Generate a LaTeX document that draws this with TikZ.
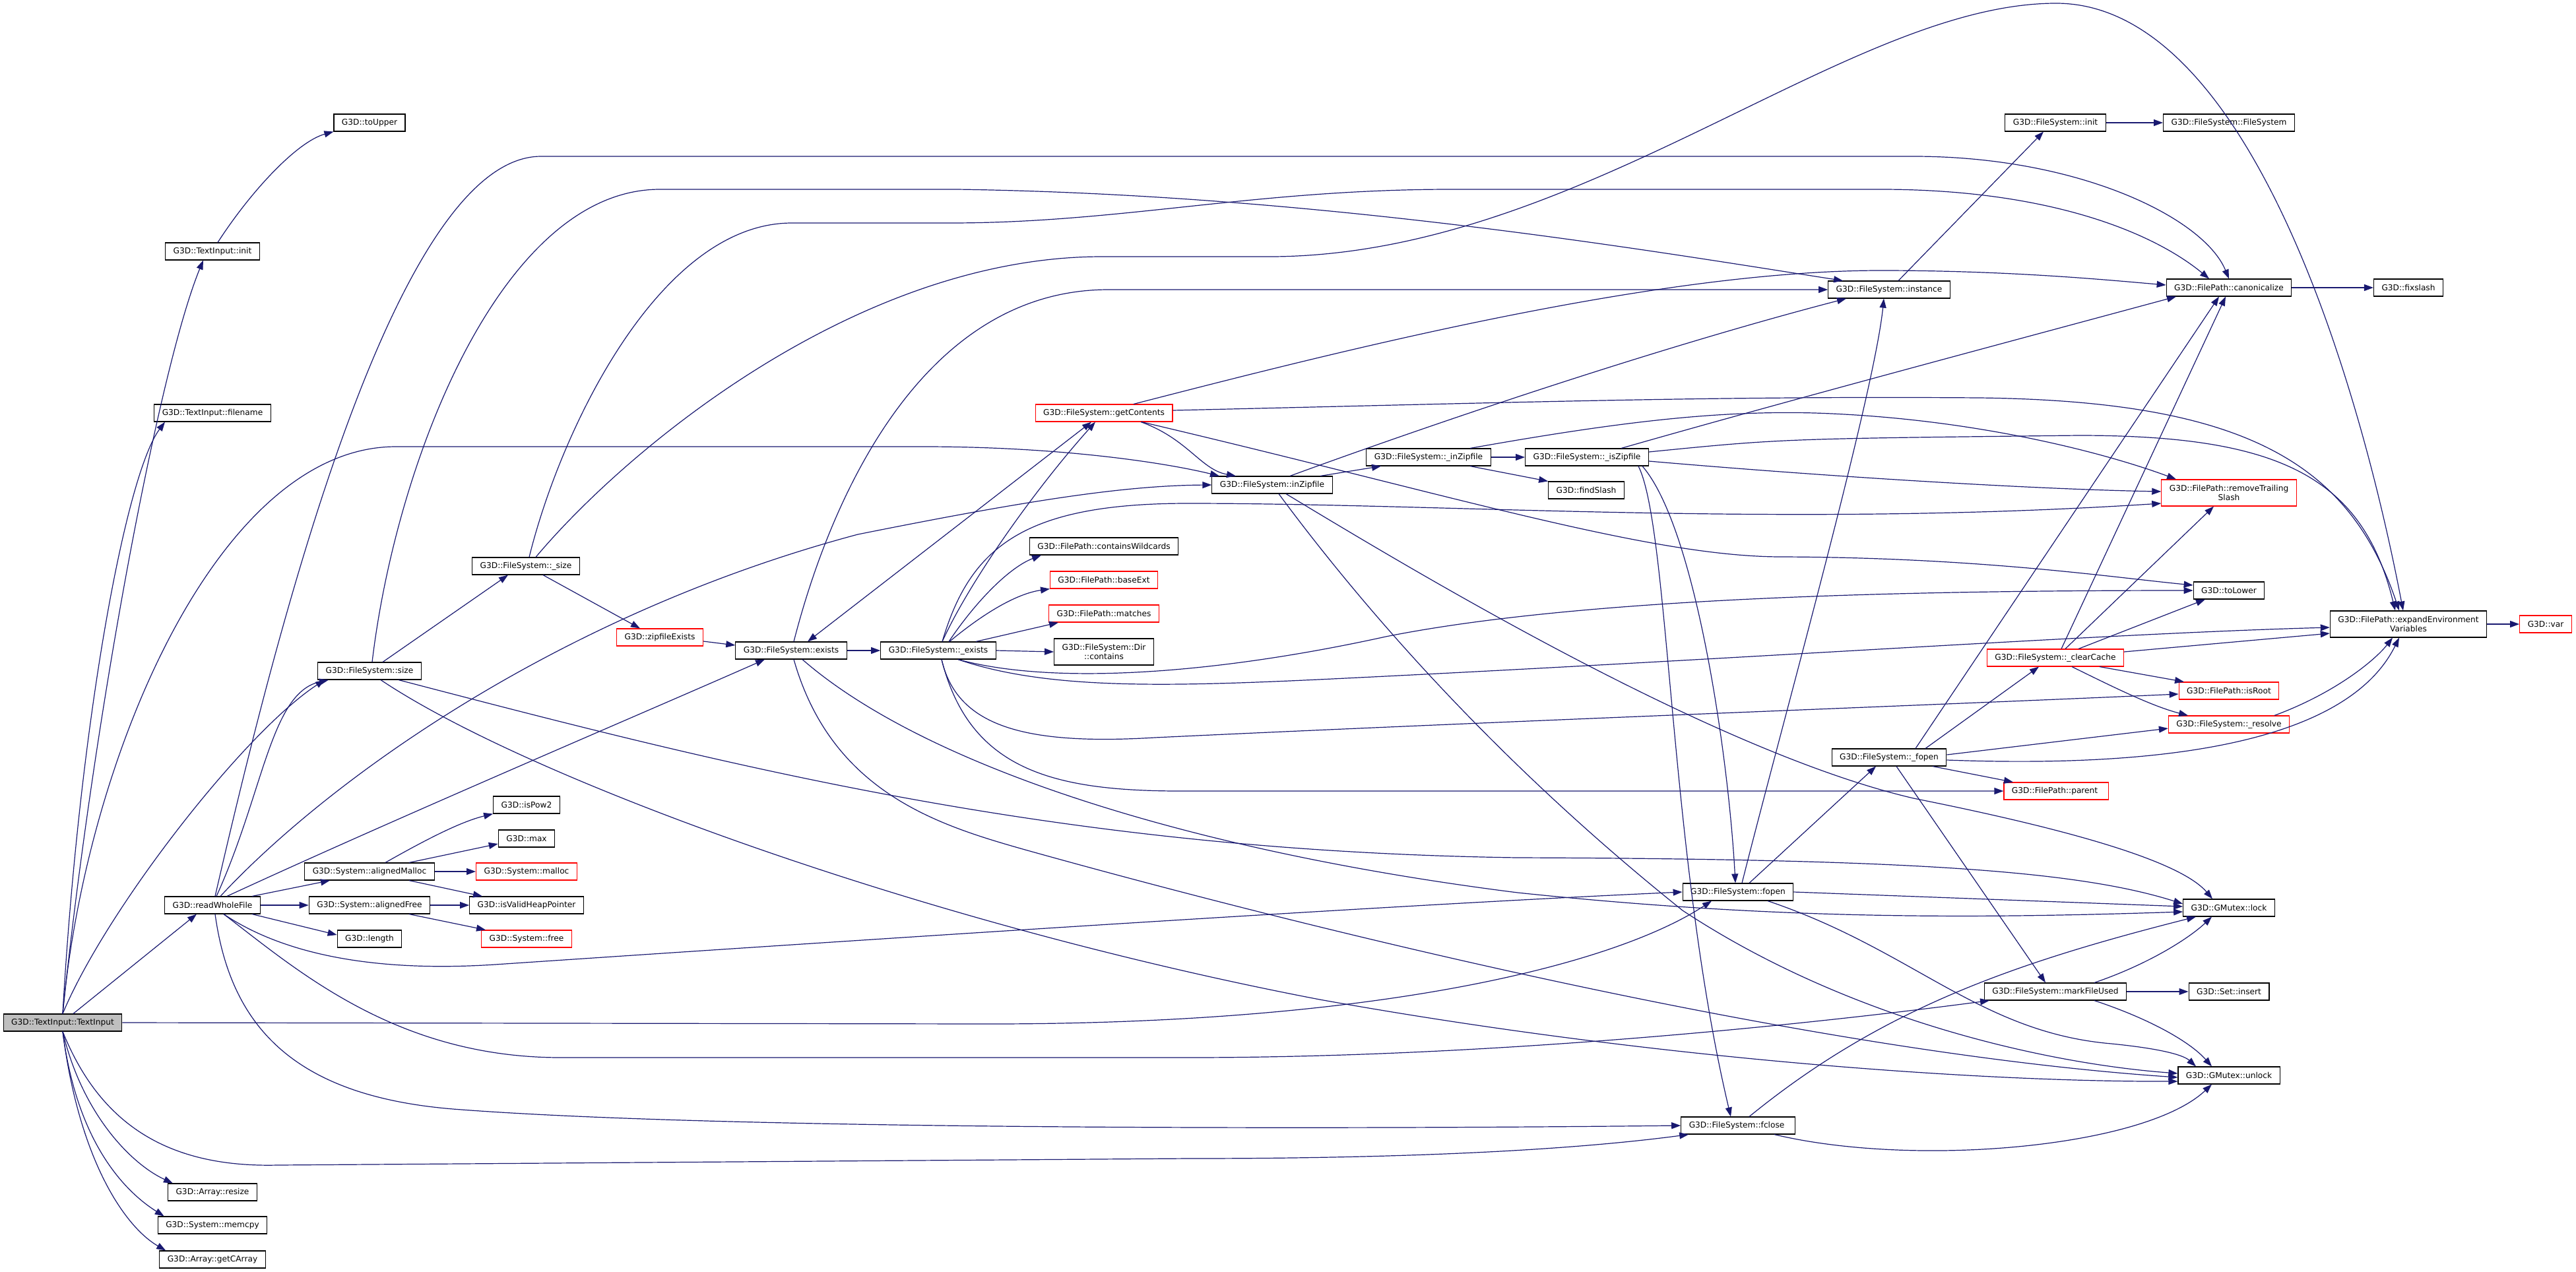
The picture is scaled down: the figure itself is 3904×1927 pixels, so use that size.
\documentclass[tikz,border=0pt]{standalone}
\usepackage{fontspec}
\setmainfont{DejaVu Sans}
\usetikzlibrary{arrows.meta}
\definecolor{edgeblue}{HTML}{191970}
\definecolor{rootgrey}{HTML}{BFBFBF}
\begin{document}
\begin{tikzpicture}[x=1pt, y=-1pt,
   fn/.style={draw=black, line width=1.1pt, rectangle, minimum height=26pt,
      inner xsep=12pt, inner ysep=2pt, align=center,
      font=\fontsize{12.2}{14.5}\selectfont},
   fnred/.style={fn, draw=red},
   fntwo/.style={minimum height=40pt},
   call/.style={draw=edgeblue, line width=1.2pt, ->},
   >={Triangle[length=14pt,width=10pt]}]
   \useasboundingbox (0,0) rectangle (3904,1927);
   % nodes
   \node[fn, fill=rootgrey] (ti) at (95,1550) {G3D::TextInput::TextInput};
   \foreach \n/\x/\y/\l in
     {tinit/322/381/{G3D::TextInput::init},
      toupper/560/186/{G3D::toUpper},
      tfname/322/626/{G3D::TextInput::filename},
      fsize/560/1017/{G3D::FileSystem::size},
      rwf/322/1372/{G3D::readWholeFile},
      resize/322/1807/{G3D::Array::resize},
      memcpy/322/1857/{G3D::System::memcpy},
      carray/322/1909/{G3D::Array::getCArray},
      usize/797/858/{G3D::FileSystem::\_size},
      exists/1199/986/{G3D::FileSystem::exists},
      uexists/1422/986/{G3D::FileSystem::\_exists},
      wild/1673/828/{G3D::FilePath::containsWildcards},
      inzip/1928/735/{G3D::FileSystem::inZipfile},
      uinzip/2165/693/{G3D::FileSystem::\_inZipfile},
      uiszip/2405/693/{G3D::FileSystem::\_isZipfile},
      slash/2404/743/{G3D::findSlash},
      inst/2863/439/{G3D::FileSystem::instance},
      fsinit/3115/186/{G3D::FileSystem::init},
      fsctor/3378/186/{G3D::FileSystem::FileSystem},
      canon/3378/436/{G3D::FilePath::canonicalize},
      fixsl/3650/436/{G3D::fixslash},
      amalloc/560/1321/{G3D::System::alignedMalloc},
      afree/560/1372/{G3D::System::alignedFree},
      length/560/1423/{G3D::length},
      pow2/798/1220/{G3D::isPow2},
      max/798/1271/{G3D::max},
      heap/798/1372/{G3D::isValidHeapPointer},
      tolower/3378/895/{G3D::toLower},
      ufopen/2863/1148/{G3D::FileSystem::\_fopen},
      fopen/2634/1352/{G3D::FileSystem::fopen},
      lock/3378/1376/{G3D::GMutex::lock},
      used/3115/1503/{G3D::FileSystem::markFileUsed},
      insert/3378/1503/{G3D::Set::insert},
      unlock/3378/1630/{G3D::GMutex::unlock},
      fclose/2634/1706/{G3D::FileSystem::fclose}
     }
     \node[fn] (\n) at (\x,\y) {\l};
   \foreach \n/\x/\y/\l in
     {zipex/1000/966/{G3D::zipfileExists},
      getc/1673/626/{G3D::FileSystem::getContents},
      baseext/1673/879/{G3D::FilePath::baseExt},
      matches/1673/930/{G3D::FilePath::matches},
      malloc/798/1321/{G3D::System::malloc},
      free/798/1423/{G3D::System::free},
      var/3858/946/{G3D::var},
      clear/3115/997/{G3D::FileSystem::\_clearCache},
      isroot/3378/1047/{G3D::FilePath::isRoot},
      resolve/3378/1098/{G3D::FileSystem::\_resolve},
      parent/3116/1199/{G3D::FilePath::parent}
     }
     \node[fnred] (\n) at (\x,\y) {\l};
   \node[fn, fntwo] (dirc) at (1673,988) {G3D::FileSystem::Dir\\::contains};
   \node[fn, fntwo] (expenv) at (3650,946) {G3D::FilePath::expandEnvironment\\Variables};
   \node[fnred, fntwo] (rts) at (3378,747) {G3D::FilePath::removeTrailing\\Slash};

   % TextInput::TextInput
   \draw[call] (ti.north) .. controls (140,1100) and (240,560) .. ([xshift=-14pt]tinit.south);
   \draw[call] (ti.north) .. controls (120,1100) and (190,720) .. ([xshift=-72pt]tfname.south);
   \draw[call] (ti.north) .. controls (160,1380) and (370,1110) .. ([xshift=-68pt]fsize.south);
   \draw[call] ([xshift=16pt]ti.north) -- ([xshift=-24pt]rwf.south);
   \draw[call] (ti.north) .. controls (130,1150) and (330,677) .. (600,677) -- (1400,677)
      .. controls (1600,677) and (1760,700) .. ([xshift=-80pt]inzip.north);
   \draw[call] (ti.east) -- (1500,1552) .. controls (2100,1552) and (2450,1460) .. ([xshift=-40pt]fopen.south);
   \draw[call] (ti.south) .. controls (150,1700) and (250,1770) .. (420,1766) -- (1800,1756)
      .. controls (2200,1756) and (2420,1738) .. ([xshift=12pt]fclose.south west);
   \draw[call] (ti.south) .. controls (125,1690) and (200,1765) .. ([xshift=8pt]resize.north west);
   \draw[call] (ti.south) .. controls (115,1720) and (180,1800) .. ([xshift=10pt]memcpy.north west);
   \draw[call] (ti.south) .. controls (120,1760) and (190,1860) .. ([xshift=10pt]carray.north west);
   \draw[call] ([xshift=8pt]tinit.north) .. controls (380,290) and (450,215) .. (toupper.south west);

   % readWholeFile
   \draw[call] ([xshift=6pt]rwf.north) .. controls (400,1200) and (410,1050) .. ([xshift=-62pt]fsize.south);
   \draw[call] ([xshift=4pt]rwf.north) .. controls (420,950) and (600,237) .. (820,237) -- (2900,237)
      .. controls (3150,237) and (3340,330) .. (canon.north);
   \draw[call] ([xshift=12pt]rwf.north) .. controls (500,1180) and (850,930) .. (1300,810)
      .. controls (1550,760) and (1700,736) .. (inzip.west);
   \draw[call] ([xshift=22pt]rwf.north) .. controls (600,1240) and (1000,1070) .. ([xshift=-40pt]exists.south);
   \draw[call] ([xshift=60pt]rwf.north) -- ([xshift=-60pt]amalloc.south);
   \draw[call] (rwf.east) -- (afree.west);
   \draw[call] ([xshift=60pt]rwf.south) -- ([yshift=6pt]length.west);
   \draw[call] ([xshift=17pt]rwf.south) .. controls (420,1440) and (550,1475) .. (750,1462)
      .. controls (1300,1425) and (2100,1372) .. (fopen.west);
   \draw[call] ([xshift=17pt]rwf.south) .. controls (450,1470) and (600,1603) .. (850,1603) -- (1800,1603)
      .. controls (2300,1603) and (2800,1545) .. ([xshift=-100pt]used.south);
   \draw[call] ([xshift=4pt]rwf.south) .. controls (350,1560) and (450,1665) .. (700,1682)
      .. controls (1100,1712) and (2000,1712) .. (fclose.west);

   % FileSystem::size and _size
   \draw[call] ([xshift=20pt]fsize.north) -- ([xshift=-27pt]usize.south);
   \draw[call] ([xshift=4pt]fsize.north) .. controls (600,700) and (760,287) .. (1000,287) -- (1450,287)
      .. controls (2000,295) and (2500,380) .. ([xshift=-70pt]inst.north);
   \draw[call] ([xshift=44pt]fsize.south) .. controls (1100,1160) and (1600,1290) .. (2300,1300)
      .. controls (2900,1302) and (3150,1320) .. ([yshift=6pt]lock.west);
   \draw[call] ([xshift=17pt]fsize.south) .. controls (800,1180) and (1400,1400) .. (2000,1515)
      .. controls (2500,1605) and (3000,1640) .. ([yshift=-9pt]unlock.west);
   \draw[call] ([xshift=26pt]usize.south) -- ([xshift=-30pt]zipex.north);
   \draw[call] ([xshift=5pt]usize.north) .. controls (850,650) and (1000,338) .. (1200,338) -- (1440,338)
      .. controls (1700,338) and (1900,287) .. (2200,287) -- (2850,287)
      .. controls (3100,287) and (3260,350) .. ([xshift=-30pt]canon.north);
   \draw[call] ([xshift=15pt]usize.north) .. controls (950,680) and (1300,389) .. (1670,389) -- (1930,389)
      .. controls (2400,385) and (2800,5) .. (3116,5)
      .. controls (3400,5) and (3570,550) .. ([xshift=-8pt]expenv.north);
   \draw[call] ([yshift=-6pt]zipex.east) -- ([yshift=8pt]exists.west);

   % alignedMalloc, alignedFree
   \draw[call] ([xshift=24pt]amalloc.north) .. controls (650,1270) and (700,1245) .. (pow2.south west);
   \draw[call] ([xshift=60pt]amalloc.north) -- ([yshift=-8pt]max.west);
   \draw[call] (amalloc.east) -- (malloc.west);
   \draw[call] ([xshift=60pt]amalloc.south) -- ([xshift=-67pt]heap.north);
   \draw[call] (afree.east) -- (heap.west);
   \draw[call] ([xshift=60pt]afree.south) -- ([xshift=-62pt]free.north);

   % exists
   \draw[call] (exists.east) -- (uexists.west);
   \draw[call] ([xshift=4pt]exists.north) .. controls (1260,750) and (1400,439) .. (1680,439) -- (inst.west);
   \draw[call] ([xshift=17pt]exists.south) .. controls (1400,1160) and (1800,1290) .. (2300,1353)
      .. controls (2700,1395) and (3000,1392) .. ([yshift=-6pt]lock.west);
   \draw[call] ([xshift=4pt]exists.south) .. controls (1260,1200) and (1420,1250) .. (1550,1287)
      .. controls (1900,1385) and (2700,1592) .. ([yshift=-3pt]unlock.west);
   \draw[call, <->] ([xshift=25pt]exists.north) -- ([xshift=-19pt]getc.south);

   % getContents
   \draw[call] ([xshift=56pt]getc.south) .. controls (1800,665) and (1820,712) .. ([xshift=-55pt]inzip.north);
   \draw[call] ([xshift=45pt]getc.north) .. controls (2000,540) and (2500,410) .. (2850,410)
      .. controls (3050,410) and (3200,425) .. ([yshift=4pt]canon.west);
   \draw[call] ([yshift=4pt]getc.east) .. controls (2300,610) and (2600,600) .. (3000,603)
      .. controls (3400,608) and (3560,700) .. ([xshift=-14pt]expenv.north);
   \draw[call] ([xshift=57pt]getc.south) .. controls (2200,750) and (2500,844) .. (2700,844)
      .. controls (3000,845) and (3200,875) .. ([yshift=8pt]tolower.west);

   % _exists
   \draw[call] ([xshift=6pt]uexists.north) .. controls (1470,880) and (1570,740) .. ([xshift=-13pt]getc.south);
   \draw[call] ([xshift=16pt]uexists.north) .. controls (1480,910) and (1530,860) .. ([xshift=-95pt]wild.south);
   \draw[call] ([xshift=17pt]uexists.north) .. controls (1490,930) and (1540,900) .. ([xshift=-82pt]baseext.south);
   \draw[call] ([xshift=57pt]uexists.north) -- ([xshift=-69pt]matches.south);
   \draw[call] (uexists.east) -- (dirc.west);
   \draw[call] ([xshift=6pt]uexists.north) .. controls (1470,830) and (1550,763) .. (1800,763)
      .. controls (2200,763) and (2700,800) .. ([yshift=-16pt]rts.west);
   \draw[call] ([xshift=30pt]uexists.south) .. controls (1600,1040) and (1850,1020) .. (2100,965)
      .. controls (2400,905) and (2900,895) .. (tolower.west);
   \draw[call] ([xshift=30pt]uexists.south) .. controls (1600,1050) and (1800,1040) .. (2100,1025)
      .. controls (2700,995) and (3200,960) .. ([yshift=-5pt]expenv.west);
   \draw[call] ([xshift=5pt]uexists.south) .. controls (1450,1100) and (1550,1130) .. (1750,1118)
      .. controls (2300,1092) and (2900,1070) .. ([yshift=-5pt]isroot.west);
   \draw[call] ([xshift=5pt]uexists.south) .. controls (1470,1170) and (1600,1200) .. (1800,1199) -- (parent.west);

   % inZipfile, _inZipfile, _isZipfile
   \draw[call] ([xshift=73pt]inzip.north) -- ([xshift=-72pt]uinzip.south);
   \draw[call] ([xshift=27pt]inzip.north) .. controls (2150,650) and (2500,530) .. ([xshift=-65pt]inst.south);
   \draw[call] ([xshift=21pt]inzip.south) .. controls (2150,870) and (2600,1140) .. (2900,1210)
      .. controls (3100,1250) and (3300,1300) .. ([xshift=-25pt]lock.north);
   \draw[call] ([xshift=10pt]inzip.south) .. controls (2050,900) and (2250,1140) .. (2550,1380)
      .. controls (2800,1545) and (3100,1612) .. ([yshift=3pt]unlock.west);
   \draw[call] (uinzip.east) -- (uiszip.west);
   \draw[call] ([xshift=63pt]uinzip.south) -- (slash.north west);
   \draw[call] ([xshift=63pt]uinzip.north) .. controls (2450,640) and (2600,622) .. (2750,626)
      .. controls (3000,634) and (3200,690) .. ([xshift=-80pt]rts.north);
   \draw[call] ([xshift=52pt]uiszip.north) .. controls (2700,610) and (3000,530) .. ([xshift=-80pt]canon.south);
   \draw[call] ([yshift=8pt]uiszip.east) .. controls (2700,665) .. (3150,660)
      .. controls (3450,660) and (3580,720) .. ([xshift=-20pt]expenv.north);
   \draw[call] ([yshift=-6pt]uiszip.east) .. controls (2800,725) and (3100,742) .. ([yshift=2pt]rts.west);
   \draw[call] ([xshift=84pt]uiszip.south) .. controls (2570,800) and (2620,1150) .. ([xshift=-4pt]fopen.north);
   \draw[call] ([xshift=78pt]uiszip.south) .. controls (2530,800) and (2530,1300) .. ([xshift=-11pt]fclose.north);

   % instance, init, canonicalize
   \draw[call] ([xshift=14pt]inst.north) -- ([xshift=-18pt]fsinit.south);
   \draw[call] (fsinit.east) -- (fsctor.west);
   \draw[call] (canon.east) -- (fixsl.west);

   % fopen, _fopen
   \draw[call] ([xshift=6pt]fopen.north) .. controls (2700,1100) and (2840,600) .. ([xshift=-8pt]inst.south);
   \draw[call] ([xshift=17pt]fopen.north) -- ([xshift=-20pt]ufopen.south);
   \draw[call] (fopen.east) -- ([yshift=2pt]lock.west);
   \draw[call] ([xshift=45pt]fopen.south) .. controls (2900,1440) and (3000,1565) .. (3200,1582)
      .. controls (3280,1590) and (3310,1600) .. ([xshift=-50pt]unlock.north);
   \draw[call] ([xshift=40pt]ufopen.north) -- ([xshift=-15pt]canon.south);
   \draw[call] ([xshift=55pt]ufopen.north) -- ([xshift=-25pt]clear.south);
   \draw[call] ([yshift=4pt]ufopen.east) -- ([yshift=-6pt]resolve.west);
   \draw[call] ([yshift=-4pt]ufopen.east) .. controls (3300,1165) and (3560,1120) .. ([xshift=-14pt]expenv.south);
   \draw[call] ([xshift=66pt]ufopen.south) -- ([xshift=-65pt]parent.north);
   \draw[call] ([xshift=11pt]ufopen.south) -- ([xshift=-15pt]used.north);

   % _clearCache, _resolve
   \draw[call] ([xshift=9pt]clear.north) -- ([xshift=-5pt]canon.south);
   \draw[call] ([xshift=15pt]clear.north) -- ([xshift=-23pt]rts.south);
   \draw[call] ([xshift=35pt]clear.north) -- ([xshift=-36pt]tolower.south);
   \draw[call] ([yshift=9pt]clear.east) -- ([yshift=-14pt]expenv.west);
   \draw[call] ([xshift=67pt]clear.south) -- ([xshift=-68pt]isroot.north);
   \draw[call] ([xshift=25pt]clear.south) .. controls (3200,1040) and (3260,1070) .. ([xshift=-62pt]resolve.north);
   \draw[call] ([xshift=69pt]resolve.north) .. controls (3540,1050) and (3600,1000) .. ([xshift=-24pt]expenv.south);
   \draw[call] (expenv.east) -- (var.west);

   % markFileUsed, fclose
   \draw[call] (used.east) -- (insert.west);
   \draw[call] ([xshift=59pt]used.north) .. controls (3260,1460) and (3320,1420) .. ([xshift=-26pt]lock.south);
   \draw[call] ([xshift=59pt]used.south) .. controls (3260,1545) and (3320,1580) .. ([xshift=-26pt]unlock.north);
   \draw[call] ([xshift=17pt]fclose.north) .. controls (2850,1530) and (3050,1460) .. ([xshift=-50pt]lock.south);
   \draw[call] ([xshift=55pt]fclose.south) .. controls (2900,1770) and (3250,1740) .. ([xshift=-26pt]unlock.south);
\end{tikzpicture}
\end{document}
